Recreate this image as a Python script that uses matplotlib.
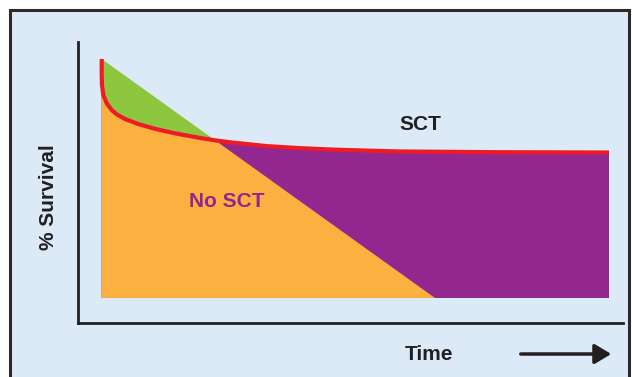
import numpy as np
import matplotlib
import matplotlib.pyplot as plt
from matplotlib.patches import Rectangle, Polygon, FancyArrowPatch

# survival curve (SCT)
sct_time = [4.35, 4.35, 4.40, 4.64, 5.27, 6.18, 7.10, 8.62, 11.06, 14.13, 17.8,
            22.39, 25.14, 28.44, 34.68, 40.73, 46.79, 53.03, 59.08, 77.43, 97.43]
sct_surv = [93.95, 88.26, 84.7, 81.14, 78.18, 75.8, 74.27, 72.6, 70.8, 69.1, 67.5,
            65.85, 65.0, 64.2, 62.95, 62.23, 61.72, 61.35, 61.05, 60.78, 60.68]

# no SCT straight decline
nosct_time = [4.35, 65.5]
nosct_surv = [93.95, 8.9]
base = 8.9

matplotlib.rcParams['font.family'] = ['Liberation Sans', 'DejaVu Sans']

bg = '#dce9f6'
dark = '#231f20'

fig = plt.figure(figsize=(6.32, 3.77), dpi=100, facecolor='white')
fig.add_artist(Rectangle((10 / 632, -0.05), 619 / 632, 1.05 - 10 / 377,
                         transform=fig.transFigure, facecolor=bg,
                         edgecolor='#2b2b2b', linewidth=2.2, zorder=-10))

ax = fig.add_axes([78 / 632, 54 / 377, 545 / 632, 281 / 377])
ax.set_facecolor('none')
ax.set_xlim(0, 100)
ax.set_ylim(0, 100)
for s in ['top', 'right']:
    ax.spines[s].set_visible(False)
for s in ['left', 'bottom']:
    ax.spines[s].set_linewidth(2)
    ax.spines[s].set_color(dark)
ax.set_xticks([])
ax.set_yticks([])

tri = [(nosct_time[0], nosct_surv[0]), (nosct_time[1], nosct_surv[1]), (nosct_time[0], base)]

# green = area above the SCT curve, inside the no-SCT triangle
ax.add_patch(Polygon(tri, closed=True, facecolor='#8dc63f', edgecolor='none', zorder=1))
# purple = everything under the SCT curve
under = ax.fill_between(sct_time, base, sct_surv, facecolor='#92278f', edgecolor='none', zorder=2)
# orange = no-SCT triangle clipped to under the curve
orange = Polygon(tri, closed=True, facecolor='#fbb040', edgecolor='none', zorder=3)
ax.add_patch(orange)
orange.set_clip_path(under.get_paths()[0], ax.transData)

ax.plot(sct_time, sct_surv, color='#ed1c24', linewidth=3, solid_capstyle='butt',
        solid_joinstyle='round', zorder=4)

ax.text(62.75, 70.5, 'SCT', fontsize=15, fontweight='bold', color=dark, ha='center', va='center')
ax.text(27.3, 43.1, 'No SCT', fontsize=15, fontweight='bold', color='#92278f', ha='center', va='center')

fig.text(429 / 632, 1 - 354 / 377, 'Time', fontsize=15, fontweight='bold', color=dark, ha='center', va='center')
fig.text(48 / 632, 1 - 197 / 377, '% Survival', fontsize=15, fontweight='bold', color=dark,
         ha='center', va='center', rotation=90)
fig.add_artist(FancyArrowPatch((518 / 632, 1 - 354 / 377), (614 / 632, 1 - 354 / 377),
                               transform=fig.transFigure, arrowstyle='-|>,head_length=5,head_width=3',
                               color=dark, linewidth=2.5, mutation_scale=2))

fig.savefig('out.png', dpi=100)
